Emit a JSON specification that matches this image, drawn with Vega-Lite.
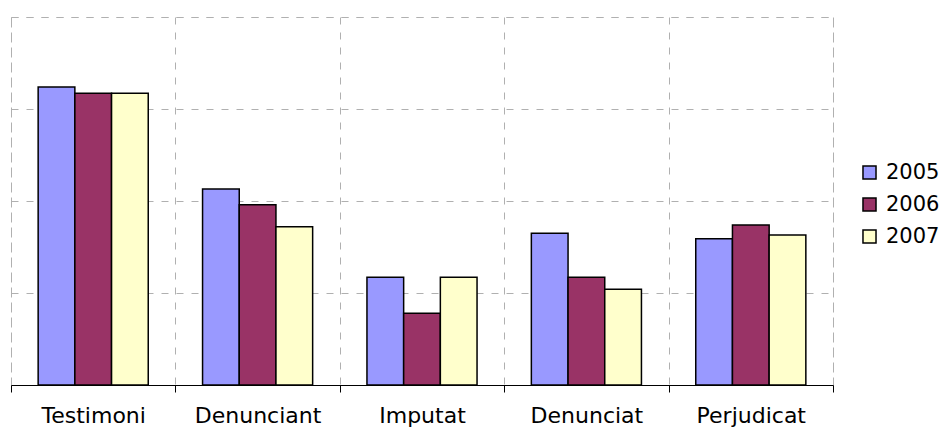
{
  "$schema": "https://vega.github.io/schema/vega-lite/v6.json",
  "width": 822,
  "height": 368,
  "autosize": {"type": "none"},
  "padding": {"left": 11, "top": 17, "right": 109, "bottom": 43},
  "background": "white",
  "config": {
    "font": "DejaVu Sans",
    "view": {"stroke": "#B0B0B0", "strokeDash": [7, 8], "strokeWidth": 1}
  },
  "data": {
    "values": [
      {"cat": "Testimoni", "year": "2005", "v": 3.24},
      {"cat": "Testimoni", "year": "2006", "v": 3.17},
      {"cat": "Testimoni", "year": "2007", "v": 3.17},
      {"cat": "Denunciant", "year": "2005", "v": 2.13},
      {"cat": "Denunciant", "year": "2006", "v": 1.96},
      {"cat": "Denunciant", "year": "2007", "v": 1.72},
      {"cat": "Imputat", "year": "2005", "v": 1.17},
      {"cat": "Imputat", "year": "2006", "v": 0.78},
      {"cat": "Imputat", "year": "2007", "v": 1.17},
      {"cat": "Denunciat", "year": "2005", "v": 1.65},
      {"cat": "Denunciat", "year": "2006", "v": 1.17},
      {"cat": "Denunciat", "year": "2007", "v": 1.04},
      {"cat": "Perjudicat", "year": "2005", "v": 1.59},
      {"cat": "Perjudicat", "year": "2006", "v": 1.74},
      {"cat": "Perjudicat", "year": "2007", "v": 1.63}
    ]
  },
  "mark": {"type": "bar", "stroke": "black", "strokeWidth": 1.5},
  "encoding": {
    "x": {
      "field": "cat",
      "type": "nominal",
      "sort": null,
      "scale": {"paddingInner": 0, "paddingOuter": 0},
      "axis": {
        "title": null,
        "labelAngle": 0,
        "labelFontSize": 22,
        "labelColor": "black",
        "labelPadding": 13,
        "bandPosition": 0,
        "tickBand": "extent",
        "grid": true,
        "gridColor": "#B0B0B0",
        "gridDash": [7, 8],
        "domainColor": "black",
        "domainWidth": 1,
        "tickColor": "black",
        "tickSize": 7
      }
    },
    "xOffset": {
      "field": "year",
      "type": "nominal",
      "scale": {"paddingInner": 0, "paddingOuter": 0.74}
    },
    "y": {
      "field": "v",
      "type": "quantitative",
      "scale": {"domain": [0, 4], "nice": false},
      "axis": {
        "title": null,
        "labels": false,
        "ticks": false,
        "domain": false,
        "values": [0, 1, 2, 3, 4],
        "grid": true,
        "gridColor": "#B0B0B0",
        "gridDash": [7, 8]
      }
    },
    "fill": {
      "field": "year",
      "type": "nominal",
      "scale": {"domain": ["2005", "2006", "2007"], "range": ["#9999FF", "#993366", "#FFFFCC"]},
      "legend": {
        "title": null,
        "orient": "none",
        "legendX": 848,
        "legendY": 145,
        "symbolType": "square",
        "symbolSize": 170,
        "symbolStrokeColor": "black",
        "symbolStrokeWidth": 1.5,
        "labelFontSize": 21,
        "labelColor": "black",
        "labelOffset": 6,
        "rowPadding": 10,
        "padding": 0
      }
    }
  }
}
